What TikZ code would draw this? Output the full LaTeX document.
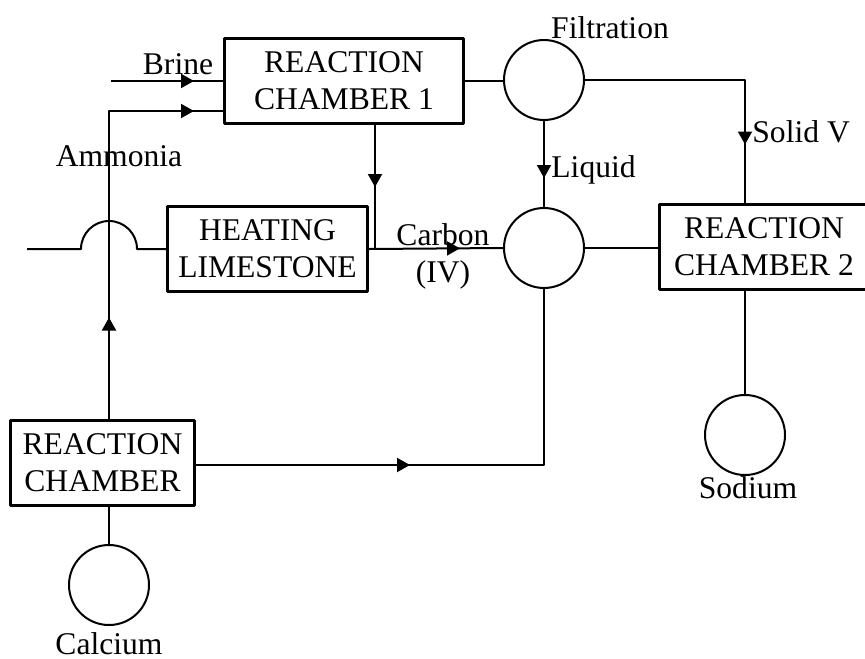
\documentclass[tikz,border=0pt]{standalone}
\usepackage{fontspec}
\setmainfont{Liberation Serif}
\usetikzlibrary{arrows.meta,decorations.markings}
\tikzset{
	box/.style={draw, line width=1.5pt, minimum width=#1, minimum height=42.5pt, align=center, inner sep=0pt},
	tank/.style={draw, circle, line width=1pt, minimum size=40pt, inner sep=0pt},
	pipe/.style={line width=1pt},
	flow/.style={postaction={decorate, decoration={markings, mark=at position #1 with {\arrow{Triangle[length=6.5pt,width=7pt]}}}}},
}
\begin{document}
\begin{tikzpicture}[x=0.5pt, y=-0.5pt, font=\fontsize{15.8}{18.5}\selectfont, line join=round]
		\useasboundingbox (0,0) rectangle (865,658);
		% 1. Cac khoi va binh
		\node[box=119.5pt] (R1) at (344,81) {REACTION\\CHAMBER 1};
		\node[box=100pt]   (H)  at (267.5,249) {HEATING\\LIMESTONE};
		\node[box=105pt]   (R2) at (764,246.5) {REACTION\\CHAMBER 2};
		\node[box=92pt]    (R3) at (102.5,462.5) {REACTION\\CHAMBER};
		\node[tank] (F)  at (544,80) {};
		\node[tank] (M)  at (544,248) {};
		\node[tank] (Ca) at (109,585) {};
		\node[tank] (Na) at (745,435) {};
		
		% 2. Gan diem
		\coordinate (b0) at (111,81);  \coordinate (am) at (109,111);
		\coordinate (hp) at (109,249); \coordinate (w0) at (27,249);
		\coordinate (sv) at (745,80);  \coordinate (cd) at (375,249);
		\coordinate (lo) at (544,465);
		
		% 3. Duong ong
		\draw[pipe, flow=-14.5pt] (b0) -- (b0 -| R1.west);
		\draw[pipe, flow=50.5pt, flow=-14.5pt] (R3.north -| am) -- (am) -- (am -| R1.west);
		\draw[pipe] (w0) -- ([xshift=-14pt]hp) arc[start angle=180, end angle=0, radius=14pt] -- (H.west);
		\draw[pipe, flow=31pt] (R1.south -| cd) -- (cd);
		\draw[pipe, flow=-21.5pt] (H.east) -- (M.west);
		\draw[pipe] (R1.east) -- (R1.east -| F.west);
		\draw[pipe, flow=-29pt] (F.east) -- (sv) -- (sv |- R2.north);
		\draw[pipe, flow=-14.5pt] (F.south) -- (M.north);
		\draw[pipe] (M.east) -- (R2.west |- M.east);
		\draw[pipe] (R2.south -| Na) -- (Na.north);
		\draw[pipe, flow=107pt] (R3.east |- lo) -- (lo) -- (M.south);
		\draw[pipe] (R3.south -| Ca) -- (Ca.north);
		
		% 4. Nhan
		\foreach \n/\t/\x/\y/\a in {brine/Brine/178/75/base, amm/Ammonia/119/166/base, filt/Filtration/610/39/base,
			solid/Solid V/752/142/base west, liq/Liquid/551/177/base west, sod/Sodium/748/498/base, cal/Calcium/109/654/base} {
			\node[anchor=\a, inner sep=0pt] (l\n) at (\x,\y) {\t};
		}
		\node[align=center, inner sep=0pt] (lco) at (443,256) {Carbon\\(IV)};
	\end{tikzpicture}
\end{document}
